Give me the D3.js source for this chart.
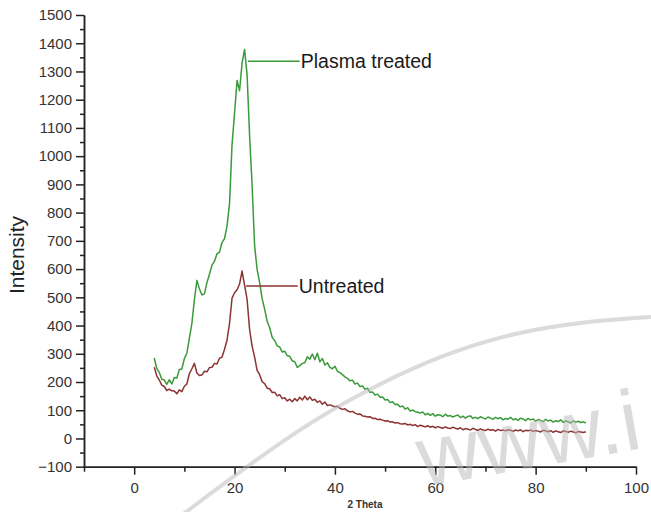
<!DOCTYPE html>
<meta charset="utf-8">
<style>
  html, body {
      margin: 0;
      padding: 0;
      background: #fff;
  }
  svg {
      display: block;
      font-family: "Liberation Sans", Arial, sans-serif;
  }
  .axis path, .axis line {
      stroke: #222;
      stroke-width: 1.5px;
  }
  .axis text {
      fill: #333;
      font-size: 15px;
  }
  .trace {
      fill: none;
      stroke-width: 1.5px;
      stroke-linejoin: round;
  }
</style>
<body>
</body>
<script src="https://cdn.jsdelivr.net/npm/d3@7"></script>
<script>

  var width = 651;
  var height = 512;

  /* scan: 2 theta from 4 to 90 deg, 0.5 deg step */
  var twoTheta = d3.range(4, 90.001, 0.5);

  var plasma = [
      285,248,234,210,207,192,208,193,216,214,
      244,246,283,302,355,408,492,560,530,508,
      512,552,582,614,628,654,660,694,708,752,
      832,1040,1152,1268,1232,1330,1378,1288,1072,896,
      682,598,552,495,458,415,392,358,347,328,
      324,306,309,293,291,275,272,252,258,266,
      268,289,281,299,279,302,272,283,260,268,
      252,247,256,238,233,226,218,213,204,207,
      193,196,184,186,174,178,163,165,154,157,
      146,147,136,138,127,130,120,121,112,115,
      104,109,97,101,95,93,90,94,84,89,
      82,88,79,84,83,77,86,79,81,76,
      80,83,74,79,72,78,80,71,75,70,
      77,73,69,76,72,68,75,70,74,66,
      71,68,75,66,70,64,72,69,63,71,
      66,69,61,67,64,59,68,62,65,58,
      63,60,66,57,62,59,55,63,58,61,
      56,59,55
  ];

  var untreated = [
      252,222,207,189,184,170,175,169,168,158,
      172,166,185,193,230,247,266,232,223,225,
      238,236,251,252,266,264,284,288,316,348,
      408,497,516,527,547,593,543,493,386,327,
      288,241,226,201,194,178,176,163,164,151,
      155,141,144,133,139,130,141,133,146,136,
      150,137,147,135,139,128,133,121,129,117,
      119,116,112,114,107,103,105,98,94,96,
      90,86,87,80,79,76,77,71,72,67,
      68,65,62,63,58,59,55,56,52,51,
      53,48,50,46,49,42,47,44,41,45,
      40,43,38,42,39,36,41,37,35,40,
      36,33,38,31,35,33,30,36,32,29,
      34,30,28,33,29,31,26,32,28,30,
      27,31,29,25,30,27,31,24,29,27,
      30,25,28,26,23,29,27,24,28,22,
      27,24,21,27,25,22,26,23,20,25,
      23,21,24
  ];

  var xMajor = [0, 20, 40, 60, 80, 100];
  var xMinor = [-10, 10, 30, 50, 70, 90];
  var yMajor = d3.range(-100, 1501, 100);
  var yMinor = d3.range(-50, 1500, 100);

  var seriesNames = ["Plasma treated", "Untreated"];
  var seriesColors = ["#3a9a3a", "#8c3333"];
  var labelAt = [[22.7, 33.0, 1336], [22.3, 32.6, 540]];   /* from x, to x, y */

  var svg = d3.select("body").append("svg")
      .attr("width", width)
      .attr("height", height);

  svg.append("rect")
      .attr("width", width)
      .attr("height", height)
      .attr("fill", "#fff");

  var x = d3.scaleLinear().domain([-10, 100]).range([84, 636]);
  var y = d3.scaleLinear().domain([-100, 1500]).range([466.7, 15]);

  /* axes */
  svg.append("g")
      .attr("class", "axis")
      .attr("transform", "translate(0," + y(-100) + ")")
      .call(d3.axisBottom(x).tickValues(xMajor).tickSize(8).tickSizeOuter(0).tickPadding(8));
  svg.append("g")
      .attr("class", "axis")
      .attr("transform", "translate(0," + y(-100) + ")")
      .call(d3.axisBottom(x).tickValues(xMinor).tickSize(5).tickSizeOuter(0).tickFormat(""));

  svg.append("g")
      .attr("class", "axis")
      .attr("transform", "translate(" + x(-10) + ",0)")
      .call(d3.axisLeft(y).tickValues(yMajor).tickSize(8).tickSizeOuter(0).tickPadding(4)
	    .tickFormat(d3.format("d")));
  svg.append("g")
      .attr("class", "axis")
      .attr("transform", "translate(" + x(-10) + ",0)")
      .call(d3.axisLeft(y).tickValues(yMinor).tickSize(4).tickSizeOuter(0).tickFormat(""));

  svg.append("text")
      .attr("transform", "translate(24," + 255 + ") rotate(-90)")
      .attr("text-anchor", "middle")
      .attr("font-size", 21)
      .attr("fill", "#222")
      .text("Intensity");

  svg.append("text")
      .attr("x", 365)
      .attr("y", 508)
      .attr("text-anchor", "middle")
      .attr("font-size", 10)
      .attr("font-weight", "bold")
      .attr("fill", "#333")
      .text("2 Theta");

  /* traces */
  var line = d3.line()
      .x(function(d, i) { return x(twoTheta[i]); })
      .y(function(d) { return y(d); });

  [plasma, untreated].forEach(function(s, k) {
      svg.append("path")
	  .attr("class", "trace")
	  .attr("stroke", seriesColors[k])
	  .attr("d", line(s));

      var a = labelAt[k];
      svg.append("line")
	  .attr("x1", x(a[0])).attr("x2", x(a[1]))
	  .attr("y1", y(a[2])).attr("y2", y(a[2]))
	  .attr("stroke", seriesColors[k])
	  .attr("stroke-width", 1.5);
      svg.append("text")
	  .attr("x", x(a[1]) + 1)
	  .attr("y", y(a[2]))
	  .attr("dy", "0.36em")
	  .attr("font-size", 19.5)
	  .attr("fill", "#1a1a1a")
	  .text(seriesNames[k]);
  });

  /* faint watermark on top of the figure */
  var wm = svg.append("g").attr("opacity", 0.5).style("pointer-events", "none");
  wm.append("path")
      .attr("d", d3.line().curve(d3.curveBasis)([[182, 515], [246, 467], [313, 420], [380, 383],
						  [447, 353], [513, 333], [580, 322], [651, 317]]))
      .attr("fill", "none")
      .attr("stroke", "#b8b8b8")
      .attr("stroke-width", 4);
  wm.append("text")
      .attr("transform", "translate(644,448) rotate(-10)")
      .attr("text-anchor", "end")
      .attr("font-size", 86)
      .attr("fill", "#b8b8b8")
      .text("www.i");

</script>
